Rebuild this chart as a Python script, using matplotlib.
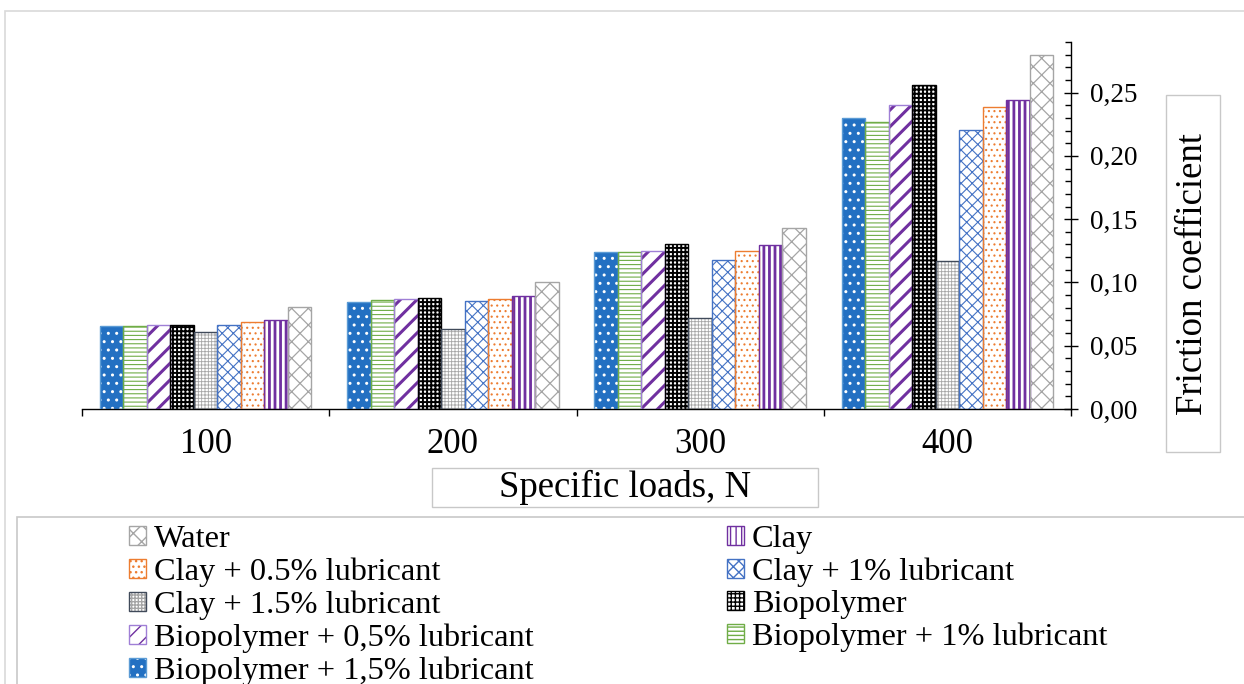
import matplotlib
matplotlib.use("Agg")
import matplotlib.pyplot as plt
import matplotlib.patches as mpatches
from matplotlib.ticker import MultipleLocator, FuncFormatter
from matplotlib.legend_handler import HandlerTuple
import numpy as np

# ---------------- data ----------------
loads = ["100", "200", "300", "400"]
series_labels = [
    "Biopolymer + 1,5% lubricant",
    "Biopolymer + 1% lubricant",
    "Biopolymer + 0,5% lubricant",
    "Biopolymer",
    "Clay + 1.5% lubricant",
    "Clay + 1% lubricant",
    "Clay + 0.5% lubricant",
    "Clay",
    "Water",
]
bio_15 = [0.0657, 0.0849, 0.1242, 0.2300]
bio_10 = [0.0657, 0.0862, 0.1242, 0.2265]
bio_05 = [0.0665, 0.0868, 0.1252, 0.2405]
bio = [0.0665, 0.0876, 0.1303, 0.2558]
clay_15 = [0.0607, 0.0635, 0.0722, 0.1166]
clay_10 = [0.0665, 0.0857, 0.1176, 0.2205]
clay_05 = [0.0686, 0.0868, 0.1252, 0.2384]
clay = [0.0704, 0.0894, 0.1292, 0.2445]
water = [0.0807, 0.1002, 0.1434, 0.2800]
series_values = [bio_15, bio_10, bio_05, bio, clay_15, clay_10, clay_05, clay, water]

# styles: (face, hatch colour, hatch, edge colour, hatch linewidth)
styles = [
    ("#2370c2", "white", "..", "#5b9bd5", 1.0),
    ("white", "#70ad47", "----", "#70ad47", 0.8),
    ("white", "#7030a0", "//", "#9f7fd6", 2.2),
    ("white", "black", "++++", "black", 1.4),
    ("white", "#a6a6a6", "+++++", "#404a5a", 0.6),
    ("white", "#4472c4", "xxx", "#4472c4", 0.8),
    ("white", "#ed7d31", "...", "#ed7d31", 0.8),
    ("white", "#7030a0", "|||", "#7030a0", 2.0),
    ("white", "#a5a5a5", "xx", "#a5a5a5", 0.9),
]

plt.rcParams["font.family"] = ["Liberation Serif", "DejaVu Serif"]
W, H = 1244, 684
fig = plt.figure(figsize=(W / 100, H / 100), dpi=100)


def fx(px):
    return px / W


def fy(py):
    return 1 - py / H


ax = fig.add_axes([fx(82), fy(409), fx(1071) - fx(82), fy(42) - fy(409)])

x = np.arange(len(loads))
n = len(series_labels)
bw = 0.095
handles = {}
for i, (lab, vals, st) in enumerate(zip(series_labels, series_values, styles)):
    face, hcol, hatch, ecol, hlw = st
    pos = x + (i - (n - 1) / 2) * bw
    b1 = ax.bar(pos, vals, width=bw, color=face, edgecolor=hcol, hatch=hatch,
                linewidth=0, zorder=2)
    b2 = ax.bar(pos, vals, width=bw, fill=False, edgecolor=ecol,
                linewidth=1.0, zorder=3)
    for p in b1.patches:
        if hasattr(p, "set_hatch_linewidth"):
            p.set_hatch_linewidth(hlw)
    handles[lab] = (b1.patches[0], b2.patches[0])

ax.set_xlim(-0.5, len(loads) - 0.5)
ax.set_ylim(0, 0.29)

for s in ["top", "left"]:
    ax.spines[s].set_visible(False)
ax.spines["bottom"].set_linewidth(1.0)
ax.spines["right"].set_linewidth(1.0)

ax.yaxis.tick_right()
ax.yaxis.set_major_locator(MultipleLocator(0.05))
ax.yaxis.set_minor_locator(MultipleLocator(0.01))
ax.yaxis.set_major_formatter(FuncFormatter(lambda v, p: f"{v:.2f}".replace(".", ",")))
ax.tick_params(axis="y", which="major", direction="inout", length=10, width=1.0,
               labelsize=19.5, pad=8.5)
ax.tick_params(axis="y", which="minor", direction="in", length=4, width=1.0)

ax.set_xticks(np.arange(-0.5, len(loads)), [""] * (len(loads) + 1))
ax.set_xticks(x, loads, minor=True)
ax.tick_params(axis="x", which="major", direction="out", length=5, width=1.0)
ax.tick_params(axis="x", which="minor", direction="in", length=4, width=1.0,
               labelsize=25, pad=13.5)

# ---------------- frames and labels ----------------
frame_col = "#d9d9d9"
fig.add_artist(mpatches.Rectangle((fx(5), fy(700)), fx(1260) - fx(5), fy(11) - fy(700),
                                  transform=fig.transFigure, fill=False,
                                  edgecolor=frame_col, linewidth=1.2))
fig.add_artist(mpatches.Rectangle((fx(17), fy(700)), fx(1260) - fx(17), fy(517) - fy(700),
                                  transform=fig.transFigure, fill=False,
                                  edgecolor="#c8c8c8", linewidth=1.2))
fig.add_artist(mpatches.Rectangle((fx(432), fy(507)), fx(818) - fx(432), fy(468) - fy(507),
                                  transform=fig.transFigure, fill=False,
                                  edgecolor="#c8c8c8", linewidth=1.0))
fig.add_artist(mpatches.Rectangle((fx(1166), fy(452)), fx(1220) - fx(1166), fy(95) - fy(452),
                                  transform=fig.transFigure, fill=False,
                                  edgecolor="#c8c8c8", linewidth=1.0))
fig.text(fx(625), fy(487), "Specific loads, N", ha="center", va="center", fontsize=26.5)
fig.text(fx(1193), fy(274), "Friction coefficient", ha="center", va="center",
         rotation=90, fontsize=26.5)

# ---------------- legend ----------------
col1 = ["Water", "Clay + 0.5% lubricant", "Clay + 1.5% lubricant",
        "Biopolymer + 0,5% lubricant", "Biopolymer + 1,5% lubricant"]
col2 = ["Clay", "Clay + 1% lubricant", "Biopolymer", "Biopolymer + 1% lubricant"]
order = col1 + col2
leg = fig.legend([handles[k] for k in order], order, ncol=2, loc="upper left",
                 bbox_to_anchor=(fx(129), fy(525)), bbox_transform=fig.transFigure,
                 frameon=False, borderpad=0, borderaxespad=0,
                 handlelength=0.52, handleheight=0.52, handletextpad=0.25,
                 labelspacing=0.105, columnspacing=5.98, fontsize=23.3,
                 handler_map={tuple: HandlerTuple(ndivide=1, pad=0)})

fig.savefig("out.png", dpi=100)
